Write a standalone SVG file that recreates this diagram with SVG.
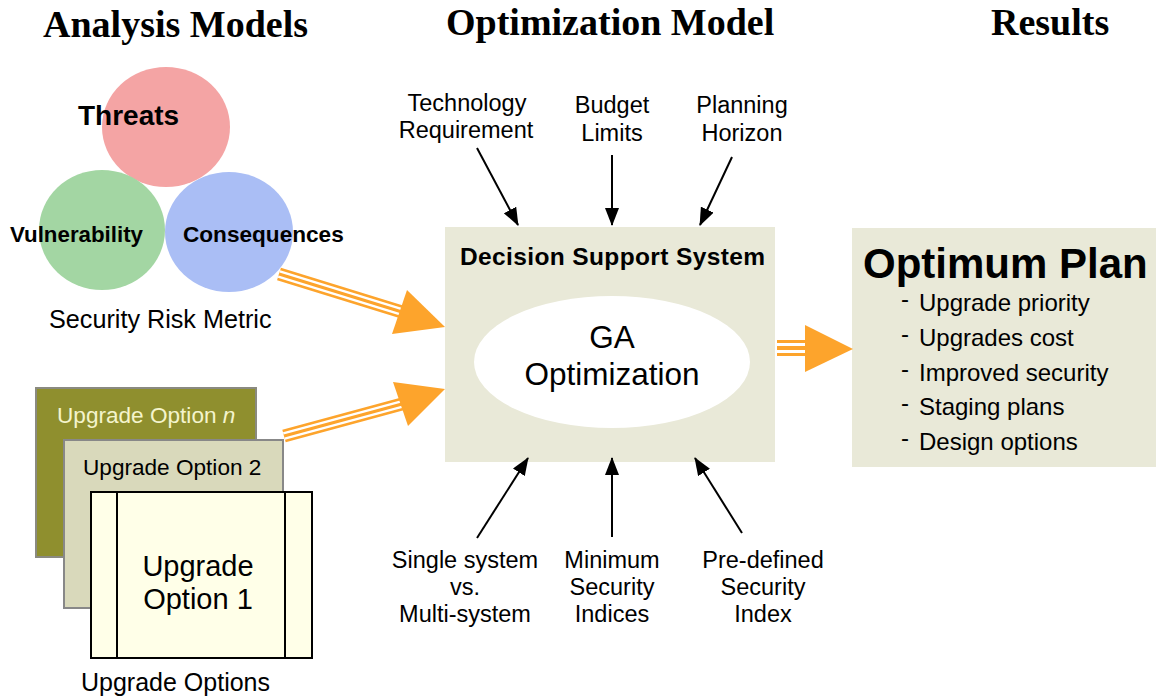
<svg xmlns="http://www.w3.org/2000/svg" width="1156" height="700" viewBox="0 0 1156 700">
<defs>
<marker id="ah" viewBox="0 0 18 14" refX="17" refY="7" markerWidth="18" markerHeight="14" markerUnits="userSpaceOnUse" orient="auto">
<path d="M0,0 L18,7 L0,14 Z" fill="#000"/>
</marker>
<style>
.title{font-family:"Liberation Serif","Times New Roman",serif;font-weight:bold;font-size:38px;fill:#000}
.sans{font-family:"Liberation Sans",Arial,sans-serif;fill:#000}
.b{font-weight:bold}
.lbl{font-size:23.5px}
.ctr{text-anchor:middle}
.conn{stroke:#000;stroke-width:2;fill:none;marker-end:url(#ah)}
.o1{stroke:#fda42c;fill:none}
.w1{stroke:#fff;fill:none}
.head{fill:#fda42c}
</style>
</defs>
<rect width="1156" height="700" fill="#fff"/>

<g id="titles">
<text class="title" x="43" y="37">Analysis Models</text>
<text class="title" x="446" y="35">Optimization Model</text>
<text class="title" x="991" y="35">Results</text>
</g>

<g id="risk-metric">
<ellipse cx="166" cy="127" rx="64" ry="60" fill="#f4a4a4"/>
<ellipse cx="102" cy="230" rx="63" ry="60" fill="#a3d6a3"/>
<ellipse cx="229" cy="232" rx="64" ry="60" fill="#aabef5"/>
<text class="sans b" x="78" y="125" font-size="28">Threats</text>
<text class="sans b" x="10" y="242" font-size="22.3">Vulnerability</text>
<text class="sans b" x="183" y="242" font-size="22.6">Consequences</text>
<text class="sans" x="49" y="328" font-size="25.2">Security Risk Metric</text>
</g>

<g id="upgrade-options">
<rect id="opt-n" x="36" y="388" width="220" height="169" fill="#8f8f2e" stroke="#8a8a80" stroke-width="2"/>
<text class="sans" x="57" y="423" font-size="22.6" style="fill:#f4f4cc">Upgrade Option <tspan font-style="italic">n</tspan></text>
<rect id="opt-2" x="64" y="440" width="219" height="168" fill="#d9d9bb" stroke="#888" stroke-width="2"/>
<text class="sans" x="83" y="475" font-size="22.6">Upgrade Option 2</text>
<g id="opt-1">
<rect x="91" y="492" width="221" height="166" fill="#ffffe8" stroke="#000" stroke-width="2"/>
<line x1="117" y1="492" x2="117" y2="658" stroke="#000" stroke-width="2"/>
<line x1="285" y1="492" x2="285" y2="658" stroke="#000" stroke-width="2"/>
<text class="sans ctr" x="198" y="576" font-size="29">Upgrade</text>
<text class="sans ctr" x="198" y="609" font-size="29">Option 1</text>
</g>
<text class="sans" x="81" y="691" font-size="25">Upgrade Options</text>
</g>

<g id="dss">
<rect x="445" y="227" width="330" height="235" fill="#e9e9d8"/>
<text class="sans b" x="460" y="265" font-size="24.5" textLength="305" lengthAdjust="spacing">Decision Support System</text>
<ellipse cx="612" cy="362" rx="138" ry="66" fill="#fff"/>
<text class="sans ctr" x="612" y="348" font-size="31.5">GA</text>
<text class="sans ctr" x="612" y="385" font-size="31.5">Optimization</text>
</g>

<g id="optimum-plan">
<rect x="852" y="228" width="304" height="239" fill="#e9e9d8"/>
<text class="sans b" x="863" y="278" font-size="42">Optimum Plan</text>
<g class="sans" font-size="24">
<text x="901" y="307">-</text><text x="919" y="311">Upgrade priority</text>
<text x="901" y="342">-</text><text x="919" y="346">Upgrades cost</text>
<text x="901" y="377">-</text><text x="919" y="381">Improved security</text>
<text x="901" y="411">-</text><text x="919" y="415">Staging plans</text>
<text x="901" y="446">-</text><text x="919" y="450">Design options</text>
</g>
</g>

<g id="inputs" class="sans lbl">
<text class="ctr" x="467" y="111">Technology</text>
<text class="ctr" x="466" y="138">Requirement</text>
<text class="ctr" x="612" y="113">Budget</text>
<text class="ctr" x="612" y="141">Limits</text>
<text class="ctr" x="742" y="113">Planning</text>
<text class="ctr" x="742" y="141">Horizon</text>
<text class="ctr" x="465" y="568">Single system</text>
<text class="ctr" x="465" y="595">vs.</text>
<text class="ctr" x="465" y="622">Multi-system</text>
<text class="ctr" x="612" y="568">Minimum</text>
<text class="ctr" x="612" y="595">Security</text>
<text class="ctr" x="612" y="622">Indices</text>
<text class="ctr" x="763" y="568">Pre-defined</text>
<text class="ctr" x="763" y="595">Security</text>
<text class="ctr" x="763" y="622">Index</text>
</g>

<g id="connectors">
<line class="conn" x1="477" y1="148" x2="518" y2="225"/>
<line class="conn" x1="612" y1="155" x2="612" y2="225"/>
<line class="conn" x1="732" y1="157" x2="700" y2="225"/>
<line class="conn" x1="477" y1="538" x2="528" y2="458"/>
<line class="conn" x1="612" y1="537" x2="612" y2="458"/>
<line class="conn" x1="742" y1="533" x2="695" y2="458"/>

<g id="arrow-risk">
<line class="o1" x1="279" y1="274" x2="402" y2="312" stroke-width="13"/>
<line class="w1" x1="279" y1="274" x2="402" y2="312" stroke-width="8"/>
<line class="o1" x1="279" y1="274" x2="402" y2="312" stroke-width="3"/>
<path class="head" d="M407,290 L445,327 L392,334 Z"/>
</g>
<g id="arrow-options">
<line class="o1" x1="284" y1="436" x2="402" y2="404" stroke-width="13"/>
<line class="w1" x1="284" y1="436" x2="402" y2="404" stroke-width="8"/>
<line class="o1" x1="284" y1="436" x2="402" y2="404" stroke-width="3"/>
<path class="head" d="M393,382 L445,389 L408,426 Z"/>
</g>
<g id="arrow-result">
<line class="o1" x1="777" y1="348" x2="808" y2="348" stroke-width="16"/>
<line class="w1" x1="777" y1="348" x2="808" y2="348" stroke-width="10"/>
<line class="o1" x1="777" y1="348" x2="808" y2="348" stroke-width="4"/>
<path class="head" d="M805,325 L853,349 L805,372 Z"/>
</g>
</g>
</svg>
